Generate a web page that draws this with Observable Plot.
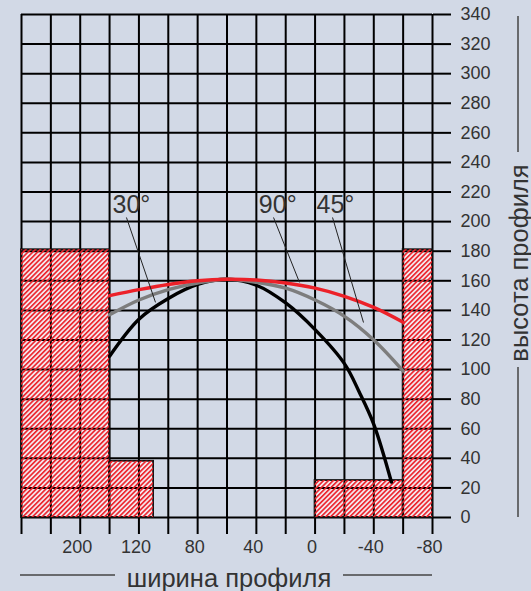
<!DOCTYPE html>
<html>
<head>
<meta charset="utf-8">
<script src="https://cdn.jsdelivr.net/npm/d3@7"></script>
<script src="https://cdn.jsdelivr.net/npm/@observablehq/plot@0.6"></script>
<style>
  html, body { margin: 0; padding: 0; background: #d2d9e6; }
  svg { display: block; }
</style>
</head>
<body>
<div id="chart"></div>
<script>
// ---- data ----
const xGridTicks = [200, 180, 160, 140, 120, 100, 80, 60, 40, 20, 0, -20, -40, -60, -80];
const yTicks = [0, 20, 40, 60, 80, 100, 120, 140, 160, 180, 200, 220, 240, 260, 280, 300, 320, 340];
const xLabelValues = [160, 120, 80, 40, 0, -40, -80];
const xLabelTexts = ["200", "120", "80", "40", "0", "-40", "-80"];

const redX = [140, 120, 100, 80, 60, 40, 20, 0, -20, -40, -60];
const redY = [150, 154, 157.5, 160, 161, 160.5, 158.5, 155, 149.5, 142, 132];
const grayX = [140, 120, 100, 80, 60, 40, 20, 0, -20, -40, -60];
const grayY = [137, 147, 154, 158.5, 161, 159, 155, 147, 136, 120, 99];
const blackX = [140, 120, 100, 80, 60, 40, 20, 0, -20, -30, -40, -52];
const blackY = [109, 134, 148, 157.5, 161, 157, 145, 127, 104, 85, 63, 24];

const hatchX1 = [200, 140, 0, -60];
const hatchX2 = [140, 110, -60, -80];
const hatchY2 = [181, 38, 25, 181];

const angleLabels = ["30°", "90°", "45°"];
const labelX = [138, 38.3, -1];
const labelY = [205.5, 205.5, 205.5];
const leaderX1 = [128.5, 28.3, -11.9];
const leaderY1 = [202.8, 202.8, 202.8];
const leaderX2 = [108.7, 10.6, -33];
const leaderY2 = [145.4, 158.9, 131.8];

const xTitle = "ширина профиля";
const yTitle = "высота профиля";

// ---- tables ----
const pts = (xs, ys) => xs.map((x, i) => ({x, y: ys[i]}));
const red = pts(redX, redY), gray = pts(grayX, grayY), black = pts(blackX, blackY);
const hatch = hatchX1.map((x1, i) => ({x1, x2: hatchX2[i], y1: 0, y2: hatchY2[i]}));
const labels = angleLabels.map((t, i) => ({t, x: labelX[i], y: labelY[i]}));
const leaders = leaderX1.map((x1, i) => ({x1, y1: leaderY1[i], x2: leaderX2[i], y2: leaderY2[i]}));

const FONT = "'Liberation Sans', Arial, Helvetica, sans-serif";
const TXT = "#333333";

const plot = Plot.plot({
  width: 531,
  height: 591,
  marginLeft: 21,
  marginRight: 99,
  marginTop: 14,
  marginBottom: 74,
  style: {background: "#d2d9e6", fontFamily: FONT, color: TXT, overflow: "visible"},
  x: {domain: [200, -80], axis: null},
  y: {domain: [0, 340], axis: null},
  marks: [
    Plot.rect(hatch, {x1: "x1", x2: "x2", y1: "y1", y2: "y2", fill: "#f3e6ec"}),
    Plot.gridX(xGridTicks, {stroke: "#000", strokeOpacity: 1, strokeWidth: 2}),
    Plot.gridY(yTicks, {stroke: "#000", strokeOpacity: 1, strokeWidth: 2}),
    Plot.axisX(xGridTicks, {tickSize: 17, tickFormat: () => "", stroke: "#000", strokeWidth: 2}),
    Plot.axisX(xLabelValues, {tickSize: 0, tickPadding: 23, tickFormat: (d, i) => xLabelTexts[i], fontSize: 18, fill: TXT, dx: -3}),
    Plot.axisY(yTicks, {anchor: "right", tickSize: 18, tickPadding: 10, fontSize: 18, fill: TXT, stroke: "#000", strokeWidth: 2}),
    Plot.rect(hatch, {x1: "x1", x2: "x2", y1: "y1", y2: "y2", fill: "none", stroke: "#111", strokeWidth: 1.8}),
    Plot.rect(hatch, {x1: "x1", x2: "x2", y1: "y1", y2: "y2", fill: "url(#hatch)"}),
    Plot.line(black, {x: "x", y: "y", stroke: "#000", strokeWidth: 3.4, curve: "catmull-rom"}),
    Plot.line(gray, {x: "x", y: "y", stroke: "#7d7d7d", strokeWidth: 3.4, curve: "catmull-rom"}),
    Plot.line(red, {x: "x", y: "y", stroke: "#ec2129", strokeWidth: 3.4, curve: "catmull-rom"}),
    Plot.link(leaders, {x1: "x1", y1: "y1", x2: "x2", y2: "y2", stroke: "#222", strokeWidth: 1}),
    Plot.text(labels, {x: "x", y: "y", text: "t", textAnchor: "start", lineAnchor: "bottom", fontSize: 25, fill: TXT}),
    Plot.text([xTitle], {frameAnchor: "bottom", textAnchor: "middle", dx: 2, dy: 69, lineAnchor: "bottom", fontSize: 25.5, fill: TXT}),
    Plot.text([yTitle], {frameAnchor: "right", textAnchor: "middle", dx: 95, dy: -3, rotate: -90, lineAnchor: "bottom", fontSize: 25.5, fill: TXT})
  ]
});

const svg = d3.select(plot);
svg.insert("defs", ":first-child").html(
  '<pattern id="hatch" patternUnits="userSpaceOnUse" width="3.4" height="10" patternTransform="rotate(45)">' +
  '<rect x="0" y="0" width="1.6" height="10" fill="#ec2129"/></pattern>'
);
document.getElementById("chart").appendChild(plot);

// decorative rules beside the axis titles
const deco = [
  [20, 575, 115, 575], [343, 575, 432, 575],
  [518, 16, 518, 152], [518, 367, 518, 517]
];
svg.append("g").selectAll("line").data(deco).join("line")
  .attr("x1", d => d[0]).attr("y1", d => d[1]).attr("x2", d => d[2]).attr("y2", d => d[3])
  .attr("stroke", "#444").attr("stroke-width", 1.5);
</script>
</body>
</html>
